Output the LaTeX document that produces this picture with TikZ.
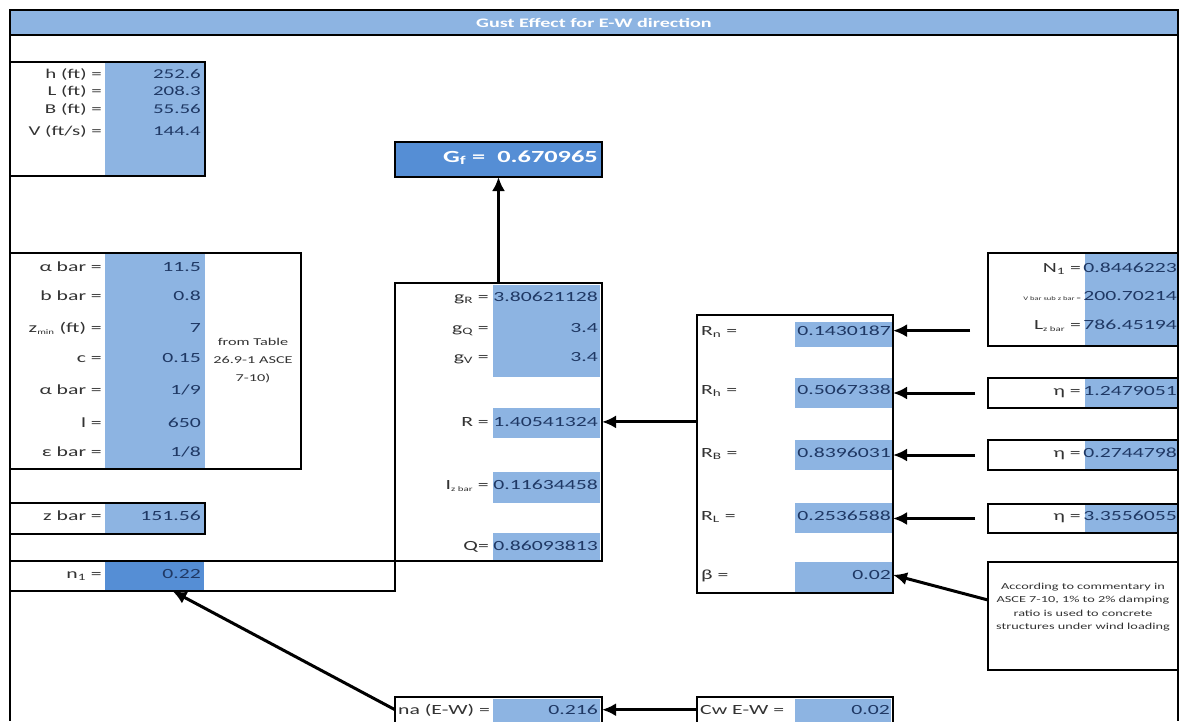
\documentclass[tikz,border=0pt]{standalone}
\usepackage{fontspec}
\setmainfont{Carlito}[FakeStretch=1.55]
\usetikzlibrary{arrows.meta,calc}
\definecolor{lb}{HTML}{8DB4E2}
\definecolor{mb}{HTML}{558ED5}
\definecolor{vt}{HTML}{1F3864}
\definecolor{lt}{HTML}{333333}
\begin{document}
\begin{tikzpicture}[x=1pt,y=-1pt,
  bx/.style={draw=black, line width=2.2pt, anchor=north west, inner sep=0pt, outer sep=0pt},
  fl/.style={fill=lb},
  lab/.style={anchor=mid east, text=lt, inner sep=0pt, font=\fontsize{14}{16}\selectfont},
  labw/.style={anchor=mid west, text=lt, inner sep=0pt, font=\fontsize{14}{16}\selectfont},
  val/.style={anchor=mid east, text=vt, inner sep=0pt, font=\fontsize{14}{16}\selectfont},
  sm/.style={font=\fontsize{13.5}{15}\selectfont},
  arr/.style={line width=3pt, -{Latex[length=14pt,width=13pt]}}]
\useasboundingbox (0,0) rectangle (1181,721);
\fill[white] (0,0) rectangle (1181,721);
% header and frame
\node[bx, fill=lb, minimum width=1168pt, minimum height=25pt] (hdr) at (10,10) {};
\node[text=white, font=\bfseries\fontsize{13}{15}\selectfont, inner sep=0pt] (hdrt) at (hdr.center) {Gust Effect for E-W direction};
\draw[line width=2pt] (hdr.north west) -- (10,721);
\draw[line width=2pt] (hdr.north east) -- (1178,721);
% box 1
\fill[fl] (105,62) rectangle (204,176);
\node[bx, minimum width=195pt, minimum height=114pt] (B1) at (10,62) {};
\node[lab,sm] (l11) at (102,76) {h (ft) =};     \node[val,sm] (v11) at (201,76) {252.6};
\node[lab,sm] (l12) at (102,93) {L (ft) =};     \node[val,sm] (v12) at (201,93) {208.3};
\node[lab,sm] (l13) at (102,111) {B (ft) =};    \node[val,sm] (v13) at (201,111) {55.56};
\node[lab,sm] (l14) at (102,133) {V (ft/s) =};  \node[val,sm] (v14) at (201,133) {144.4};
% box 2
\fill[fl] (105,253) rectangle (205,469);
\node[bx, minimum width=291pt, minimum height=216pt] (B2) at (10,253) {};
\node[lab] (l21) at (102,269) {α bar =};  \node[val] (v21) at (201,269) {11.5};
\node[lab] (l22) at (102,298) {b bar =};  \node[val] (v22) at (201,298) {0.8};
\node[lab] (l23) at (102,330) {z\textsubscript{\fontsize{7}{8}\selectfont min} (ft) =};  \node[val] (v23) at (201,330) {7};
\node[lab] (l24) at (102,360) {c =};      \node[val] (v24) at (201,360) {0.15};
\node[lab] (l25) at (102,392) {α bar =};  \node[val] (v25) at (201,392) {1/9};
\node[lab] (l26) at (102,425) {l =};      \node[val] (v26) at (201,425) {650};
\node[lab] (l27) at (102,454) {ε bar =};  \node[val] (v27) at (201,454) {1/8};
\node[text=lt, align=center, inner sep=0pt, font=\fontsize{10.5}{18}\selectfont] (note) at (253,361) {from Table\\26.9-1 ASCE\\7-10)};
% z bar
\fill[fl] (105,503) rectangle (204,534);
\node[bx, minimum width=195pt, minimum height=31pt] (B3) at (10,503) {};
\node[lab] (l31) at (102,518) {z bar =};  \node[val] (v31) at (201,518) {151.56};
% n1 row
\node[fill=mb, minimum width=99pt, minimum height=30pt, anchor=north west, inner sep=0pt, outer sep=0pt] (n1b) at (105,561) {};
\node[bx, minimum width=385pt, minimum height=30pt] (N1row) at (10,561) {};
\node[lab] (l41) at (102,576) {n\textsubscript{1} =};  \node[val] (v41) at (201,576) {0.22};
% Gf
\node[bx, fill=mb, minimum width=207pt, minimum height=35pt] (Gf) at (395,142) {};
\node[anchor=mid east, text=white, inner sep=0pt, font=\bfseries\fontsize{17}{19}\selectfont] (Gft) at (598,160) {G\textsubscript{f} =\ \ 0.670965};
% middle box
\fill[fl] (493,285) rectangle (600,377);
\fill[fl] (493,408) rectangle (600,438);
\fill[fl] (493,472) rectangle (600,503);
\fill[fl] (493,533) rectangle (600,561);
\node[bx, minimum width=207pt, minimum height=278pt] (M) at (395,283) {};
\node[lab] (m1) at (489,299) {g\textsubscript{R} =};  \node[val] (mv1) at (598,299) {3.80621128};
\node[lab] (m2) at (489,330) {g\textsubscript{Q} =};  \node[val] (mv2) at (598,330) {3.4};
\node[lab] (m3) at (489,359) {g\textsubscript{V} =};  \node[val] (mv3) at (598,359) {3.4};
\node[lab] (m4) at (489,424) {R =};                   \node[val] (Rv) at (598,424) {1.40541324};
\node[lab] (m5) at (489,487) {I\textsubscript{\fontsize{7}{8}\selectfont z bar} =};  \node[val] (mv5) at (598,487) {0.11634458};
\node[lab] (m6) at (489,548) {Q=};                    \node[val] (mv6) at (598,548) {0.86093813};
% right-middle box
\fill[fl] (795,322) rectangle (892,347);
\fill[fl] (795,378) rectangle (892,408);
\fill[fl] (795,440) rectangle (892,470);
\fill[fl] (795,503) rectangle (892,533);
\fill[fl] (795,562) rectangle (892,593);
\node[bx, minimum width=196pt, minimum height=278pt] (RB) at (697,315) {};
\node[labw] (r1) at (701,333) {R\textsubscript{n} =};  \node[val] (Rnv) at (891,333) {0.1430187};
\node[labw] (r2) at (701,392) {R\textsubscript{h} =};  \node[val] (Rhv) at (891,392) {0.5067338};
\node[labw] (r3) at (701,455) {R\textsubscript{B} =};  \node[val] (RBv) at (891,455) {0.8396031};
\node[labw] (r4) at (701,518) {R\textsubscript{L} =};  \node[val] (RLv) at (891,518) {0.2536588};
\node[labw] (r5) at (701,577) {β =};                   \node[val] (bv) at (891,577) {0.02};
% right boxes
\fill[fl] (1085,253) rectangle (1178,346);
\fill[fl] (1085,378) rectangle (1178,408);
\fill[fl] (1085,440) rectangle (1178,470);
\fill[fl] (1085,504) rectangle (1178,533);
\node[bx, minimum width=190pt, minimum height=93pt] (N1box) at (988,253) {};
\node[bx, minimum width=190pt, minimum height=30pt] (E1) at (988,378) {};
\node[bx, minimum width=190pt, minimum height=30pt] (E2) at (988,440) {};
\node[bx, minimum width=190pt, minimum height=29pt] (E3) at (988,504) {};
\node[bx, minimum width=190pt, minimum height=108pt] (Cm) at (988,562) {};
\node[lab] (k1) at (1081,270) {N\textsubscript{1} =};  \node[val] (kv1) at (1177,270) {0.8446223};
\node[lab, font=\fontsize{5.5}{6}\selectfont] (k2) at (1081,298) {V bar sub z bar =};  \node[val] (kv2) at (1177,298) {200.70214};
\node[lab] (k3) at (1081,327) {L\textsubscript{\fontsize{7}{8}\selectfont z bar} =};  \node[val] (kv3) at (1177,327) {786.45194};
\node[lab] (e1) at (1081,393) {η =};  \node[val] (ev1) at (1177,393) {1.2479051};
\node[lab] (e2) at (1081,455) {η =};  \node[val] (ev2) at (1177,455) {0.2744798};
\node[lab] (e3) at (1081,518) {η =};  \node[val] (ev3) at (1177,518) {3.3556055};
\node[text=lt, align=center, inner sep=0pt, font=\fontsize{9.2}{13.5}\selectfont] (cmt) at (1083,607) {According to commentary in\\ASCE 7-10, 1\% to 2\% damping\\ratio is used to concrete\\structures under wind loading};
% bottom boxes
\fill[fl] (493,699) rectangle (600,725);
\node[bx, minimum width=207pt, minimum height=30pt] (na) at (395,697) {};
\node[labw] (nal) at (398,712) {na (E-W) =};  \node[val] (nav) at (598,712) {0.216};
\fill[fl] (795,699) rectangle (891,725);
\node[bx, minimum width=196pt, minimum height=30pt] (cw) at (697,697) {};
\node[labw] (cwl) at (700,712) {Cw E-W =};  \node[val] (cwv) at (890,712) {0.02};
% connectors
\draw[arr] (M.north) -- (Gf.south);
\draw[arr] (RB.west |- Rv) -- (M.east |- Rv);
\draw[arr, shorten <=18pt] (N1box.west |- Rnv) -- (RB.east |- Rnv);
\draw[arr, shorten <=13pt] (E1.west) -- (RB.east |- E1.west);
\draw[arr, shorten <=13pt] (E2.west) -- (RB.east |- E2.west);
\draw[arr, shorten <=13pt] (E3.west) -- (RB.east |- E3.west);
\draw[arr] (Cm.west |- 0,600) -- (RB.east |- bv);
\draw[arr] (na.west |- nav) -- ([xshift=18pt]n1b.south);
\draw[arr] (cw.west |- nav) -- (na.east |- nav);
\end{tikzpicture}
\end{document}
